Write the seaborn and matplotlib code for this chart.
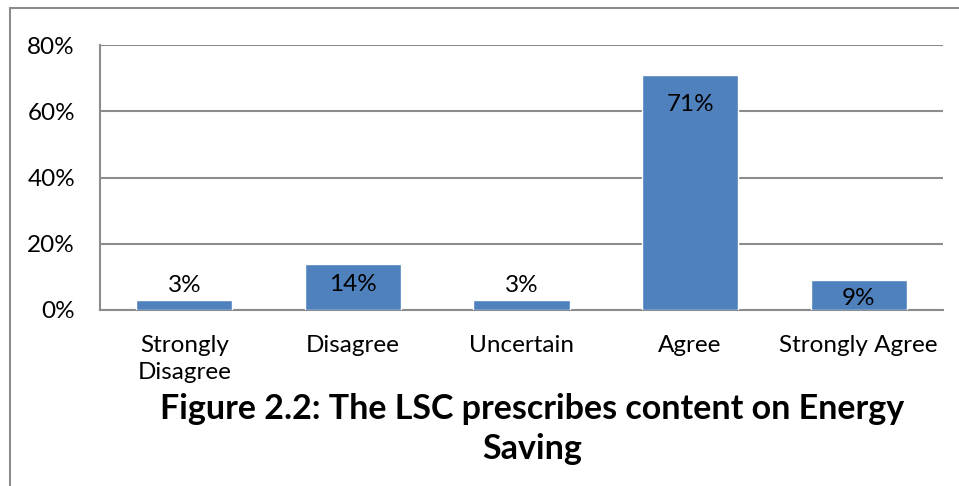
import matplotlib
matplotlib.use("Agg")
import matplotlib.pyplot as plt
from matplotlib.lines import Line2D
from matplotlib.ticker import PercentFormatter
import seaborn as sns
import pandas as pd

categories = ["Strongly\nDisagree", "Disagree", "Uncertain", "Agree", "Strongly Agree"]
values = [3, 14, 3, 71, 9]
value_labels = ["3%", "14%", "3%", "71%", "9%"]
y_ticks = [0, 20, 40, 60, 80]
title = "Figure 2.2: The LSC prescribes content on Energy\nSaving"

# vertical offset (pixels) of each value label centre from its bar top
label_offsets = [14.5, -20.5, 14.5, -29.5, -18.5]

sns.set_theme(style="white")
plt.rcParams["font.family"] = ["Lato", "DejaVu Sans"]
plt.rcParams["text.color"] = "black"

W, H = 959, 486
fig = plt.figure(figsize=(W / 100, H / 100), dpi=100)
ax = fig.add_axes([100 / W, 1 - 310 / H, (943 - 100) / W, (310 - 45) / H])

df = pd.DataFrame({"category": categories, "value": values})
sns.barplot(data=df, x="category", y="value", color="#4F81BD", saturation=1,
            width=0.57, ax=ax, zorder=3)

ax.set_ylim(0, 80)
ax.set_yticks(y_ticks)
ax.yaxis.set_major_formatter(PercentFormatter(decimals=0))
ax.set_xlim(-0.5, len(categories) - 0.5)
ax.set_xlabel("")
ax.set_ylabel("")

grid_color = "#8C8C8C"
ax.grid(axis="y", color=grid_color, linewidth=1.5, zorder=0)
ax.grid(axis="x", visible=False)
for side in ["top", "right"]:
    ax.spines[side].set_visible(False)
for side in ["left", "bottom"]:
    ax.spines[side].set_color(grid_color)
    ax.spines[side].set_linewidth(1.5)

fs = 17.5
ax.tick_params(axis="y", length=0, pad=18, labelsize=fs, labelcolor="black")
ax.tick_params(axis="x", length=0, pad=18, labelsize=fs, labelcolor="black")
for lbl in ax.get_xticklabels():
    lbl.set_linespacing(1.35)

for i, (v, txt, off) in enumerate(zip(values, value_labels, label_offsets)):
    ax.annotate(txt, xy=(i, v), xytext=(0, off * 0.72), textcoords="offset points",
                ha="center", va="center", fontsize=fs, color="black", zorder=4)

fig.text(532 / W, 1 - 429 / H, title, ha="center", va="center", fontsize=24.5,
         fontweight="bold", linespacing=1.3, color="black")

# outer chart frame
frame_color = "#8C8C8C"
fig.add_artist(Line2D([9.5 / W, 9.5 / W], [0, 1 - 8.5 / H], transform=fig.transFigure,
                      color=frame_color, linewidth=1.5))
fig.add_artist(Line2D([9.5 / W, 1], [1 - 8.5 / H, 1 - 8.5 / H], transform=fig.transFigure,
                      color=frame_color, linewidth=1.5))

fig.savefig("out.png", dpi=100)
